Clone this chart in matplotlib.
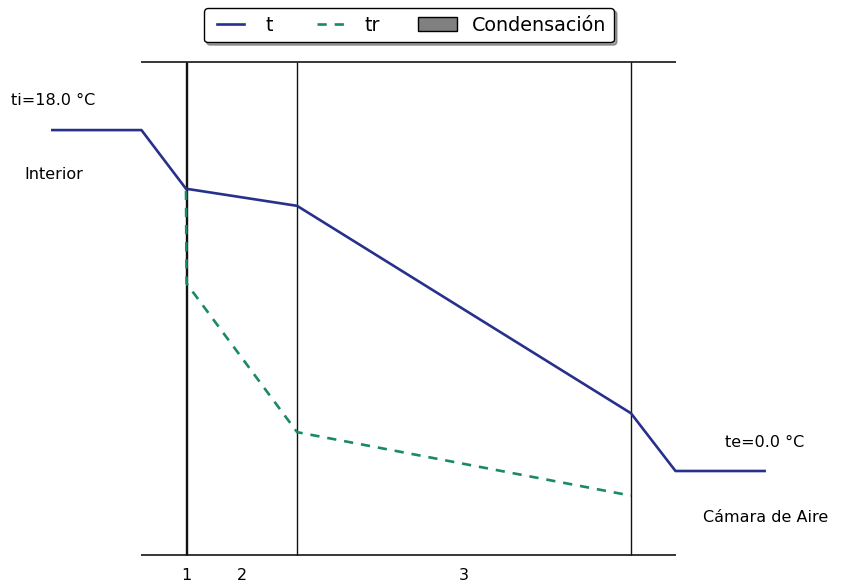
import matplotlib
matplotlib.use("Agg")
import numpy as np
import matplotlib.pyplot as plt
from matplotlib.patches import Patch
from matplotlib.legend_handler import HandlerLine2D

# Layer data
layer_names = ["1", "2", "3"]
layer_thick = [0.001, 0.201, 0.607]   # m
margin = 0.081

ti = 18.0
te = 0.0
# temperature at interfaces (inner surface, after layer 1, after layer 2, outer surface)
t_interfaces = [14.9, 14.9, 14.0, 3.05]
# dew-point temperature at interfaces
tr_interfaces = [14.8, 9.9, 2.05, -1.3]

y_top = 21.6
y_bot = -4.45

bounds = [0.0]
for th in layer_thick:
    bounds.append(bounds[-1] + th)
total = bounds[-1]

fig = plt.figure(figsize=(8.42, 5.84), dpi=100)
ax = fig.add_axes([0, 0, 1, 1])
ax.set_xlim(-186 / 550, (842 - 186) / 550)
ax.set_ylim(-113 / 18.94, (584 - 113) / 18.94)
ax.axis("off")

c_t = "#27318b"
c_tr = "#1b8a64"

# wall frame
ax.hlines([y_top, y_bot], -margin, total + margin, color="black", lw=1.1)
ax.vlines(bounds, y_bot, y_top, color="#111111", lw=1.0)

tx = [-3 * margin, -margin] + bounds + [total + margin, total + 3 * margin]
ty = [ti, ti] + t_interfaces + [te, te]
ax.plot(tx, ty, color=c_t, lw=1.9, label="t")
ax.plot(bounds, tr_interfaces, color=c_tr, lw=1.9, ls=(0, (3.5, 3)), label="tr")

fs = 11.5
ax.text(-0.318, 19.54, f"ti={ti:.1f} °C", fontsize=fs, va="center", ha="left")
ax.text(-0.2945, 15.63, "Interior", fontsize=fs, va="center", ha="left")
ax.text(0.98, 1.53, f"te={te:.1f} °C", fontsize=fs, va="center", ha="left")
ax.text(0.94, -2.43, "Cámara de Aire", fontsize=fs, va="center", ha="left")
for i, name in enumerate(layer_names):
    xm = (bounds[i] + bounds[i + 1]) / 2
    ax.text(xm, -5.54, name, fontsize=fs, va="center", ha="center")


class ShortLine(HandlerLine2D):
    def create_artists(self, legend, orig_handle, xdescent, ydescent,
                       width, height, fontsize, trans):
        pad = 0.3 * fontsize
        ydata = np.full(2, (height - ydescent) / 2)
        xdata = np.array([-xdescent + pad, width - xdescent - pad])
        line = plt.Line2D(xdata, ydata)
        self.update_prop(line, orig_handle, legend)
        line.set_transform(trans)
        return [line]


h_t = plt.Line2D([], [], color=c_t, lw=1.9)
h_tr = plt.Line2D([], [], color=c_tr, lw=1.9, ls=(0, (3.5, 3)))
handles = [h_t, h_tr, Patch(facecolor="gray", edgecolor="black")]
fig.legend(handles, ["t", "tr", "Condensación"], loc="upper center",
           bbox_to_anchor=(0.4857, 0.9863), ncol=3, shadow=True, fancybox=True,
           fontsize=13.8, framealpha=1, edgecolor="black", borderaxespad=0,
           handler_map={h_t: ShortLine(), h_tr: ShortLine()})

fig.savefig("out.png", dpi=100)
